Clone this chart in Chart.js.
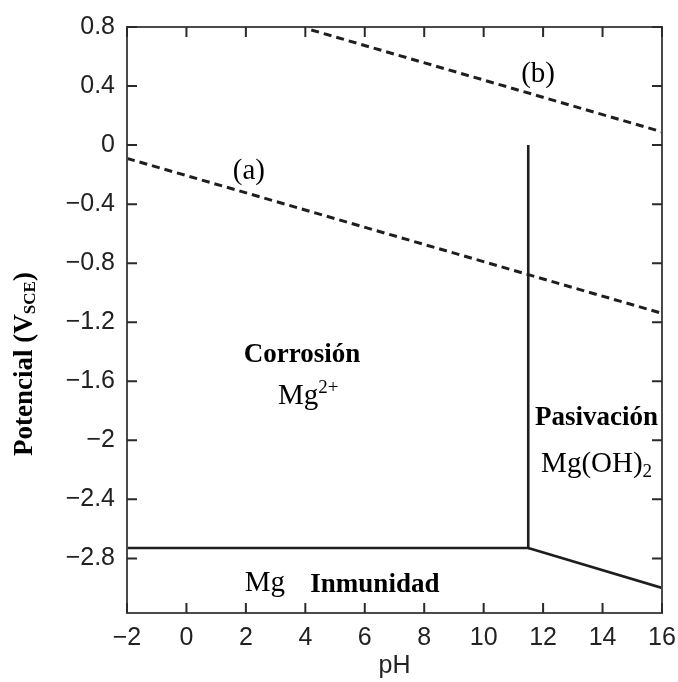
<!DOCTYPE html>
<html>
<head>
<meta charset="utf-8">
<script src="https://cdn.jsdelivr.net/npm/chart.js@4.4.1/dist/chart.umd.min.js"></script>
<style>
  html, body { margin: 0; padding: 0; background: #fff; }
</style>
</head>
<body>
<canvas id="pourbaix" width="678" height="682"></canvas>
<script>
const xTicks = [-2, 0, 2, 4, 6, 8, 10, 12, 14, 16]
const yTicks = [0.8, 0.4, 0, -0.4, -0.8, -1.2, -1.6, -2, -2.4, -2.8]

// water stability lines (dashed)
const lineA = [{ x: -2, y: -0.09 }, { x: 16, y: -1.14 }]
const lineB = [{ x: 4.2, y: 0.78 }, { x: 16, y: 0.09 }]
// Mg / Mg2+ / Mg(OH)2 boundaries
const mgBoundary = [{ x: -2, y: -2.73 }, { x: 11.5, y: -2.73 }, { x: 11.5, y: 0 }]
const hydroxBoundary = [{ x: 11.5, y: -2.73 }, { x: 16, y: -3.0 }]

// region labels, anchored in pH / V
const regionLabels = [
  { at: [2.1, -0.18], parts: [['(a)', 'r']] },
  { at: [11.83, 0.48], parts: [['(b)', 'r']] },
  { at: [3.89, -1.42], parts: [['Corrosión', 'b']] },
  { at: [4.1, -1.7], parts: [['Mg', 'r'], ['2+', 'sup']] },
  { at: [13.8, -1.85], parts: [['Pasivación', 'b']] },
  { at: [13.8, -2.16], parts: [['Mg(OH)', 'r'], ['2', 'sub']] },
  { at: [2.64, -2.97], parts: [['Mg', 'r']] },
  { at: [6.34, -2.98], parts: [['Inmunidad', 'b']] },
]

const serif = '"Liberation Serif", "Times New Roman", serif'
const sans = '"Liberation Sans", Arial, sans-serif'
const partFont = {
  r: { font: '29px ' + serif, dy: 0 },
  b: { font: 'bold 27px ' + serif, dy: 0 },
  sup: { font: '19px ' + serif, dy: -8 },
  sub: { font: '19px ' + serif, dy: 8 },
  tb: { font: 'bold 27px ' + serif, dy: 0 },
  tsub: { font: 'bold 17px ' + serif, dy: 6 },
}

function drawParts(ctx, parts, cx, cy) {
  let total = 0
  const widths = parts.map(([t, k]) => {
    ctx.font = partFont[k].font
    const w = ctx.measureText(t).width
    total += w
    return w
  })
  let x = cx - total / 2
  ctx.textAlign = 'left'
  ctx.textBaseline = 'middle'
  parts.forEach(([t, k], i) => {
    ctx.font = partFont[k].font
    ctx.fillText(t, x, cy + partFont[k].dy)
    x += widths[i]
  })
}

const fmt = (v) => String(+Number(v).toFixed(1)).replace('-', '\u2212')

const framePlugin = {
  id: 'frame',
  afterDraw(chart) {
    const { ctx, chartArea, scales } = chart
    const { left, right, top, bottom } = chartArea
    ctx.save()
    ctx.strokeStyle = '#4a4a4a'
    ctx.lineWidth = 2
    ctx.strokeRect(left, top, right - left, bottom - top)
    ctx.strokeStyle = '#2a2a2a'
    ctx.beginPath()
    xTicks.forEach((v) => {
      const px = scales.x.getPixelForValue(v)
      ctx.moveTo(px, bottom); ctx.lineTo(px, bottom - 10)
      ctx.moveTo(px, top); ctx.lineTo(px, top + 10)
    })
    yTicks.forEach((v) => {
      const py = scales.y.getPixelForValue(v)
      ctx.moveTo(left, py); ctx.lineTo(left + 10, py)
      ctx.moveTo(right, py); ctx.lineTo(right - 10, py)
    })
    ctx.stroke()

    ctx.fillStyle = '#000'
    regionLabels.forEach((l) => {
      drawParts(ctx, l.parts, scales.x.getPixelForValue(l.at[0]), scales.y.getPixelForValue(l.at[1]))
    })

    // y axis title with subscript
    ctx.translate(25, (top + bottom) / 2 + 44)
    ctx.rotate(-Math.PI / 2)
    drawParts(ctx, [['Potencial (V', 'tb'], ['SCE', 'tsub'], [')', 'tb']], 0, 0)
    ctx.restore()
  },
}

const lineStyle = { showLine: true, pointRadius: 0, borderColor: '#1e1e1e', fill: false }

new Chart(document.getElementById('pourbaix'), {
  type: 'scatter',
  data: {
    datasets: [
      { ...lineStyle, data: lineA, borderWidth: 3, borderDash: [8, 5] },
      { ...lineStyle, data: lineB, borderWidth: 3, borderDash: [8, 5] },
      { ...lineStyle, data: mgBoundary, borderWidth: 2.6 },
      { ...lineStyle, data: hydroxBoundary, borderWidth: 2.6 },
    ],
  },
  options: {
    responsive: false,
    animation: false,
    layout: { padding: { top: 24, right: 16, left: 0, bottom: 0 } },
    plugins: { legend: { display: false }, tooltip: { enabled: false } },
    scales: {
      x: {
        type: 'linear',
        min: -2,
        max: 16,
        afterBuildTicks: (s) => { s.ticks = xTicks.map((v) => ({ value: v })) },
        afterFit: (s) => {
          s.height = 69
          s.paddingLeft = 0
          s.paddingRight = 0
        },
        grid: { display: false, drawTicks: false },
        border: { display: false },
        ticks: { padding: 10, color: '#222', font: { family: sans, size: 25 }, callback: fmt, maxRotation: 0, autoSkip: false },
        title: { display: true, text: 'pH', color: '#222', font: { family: sans, size: 25 }, padding: { top: 0, bottom: 1 } },
      },
      y: {
        type: 'linear',
        min: -3.17,
        max: 0.8,
        afterBuildTicks: (s) => { s.ticks = yTicks.map((v) => ({ value: v })) },
        afterFit: (s) => { s.width = 127 },
        grid: { display: false, drawTicks: false },
        border: { display: false },
        ticks: { padding: 12, color: '#222', font: { family: sans, size: 25 }, callback: fmt, autoSkip: false },
      },
    },
  },
  plugins: [framePlugin],
})
</script>
</body>
</html>
